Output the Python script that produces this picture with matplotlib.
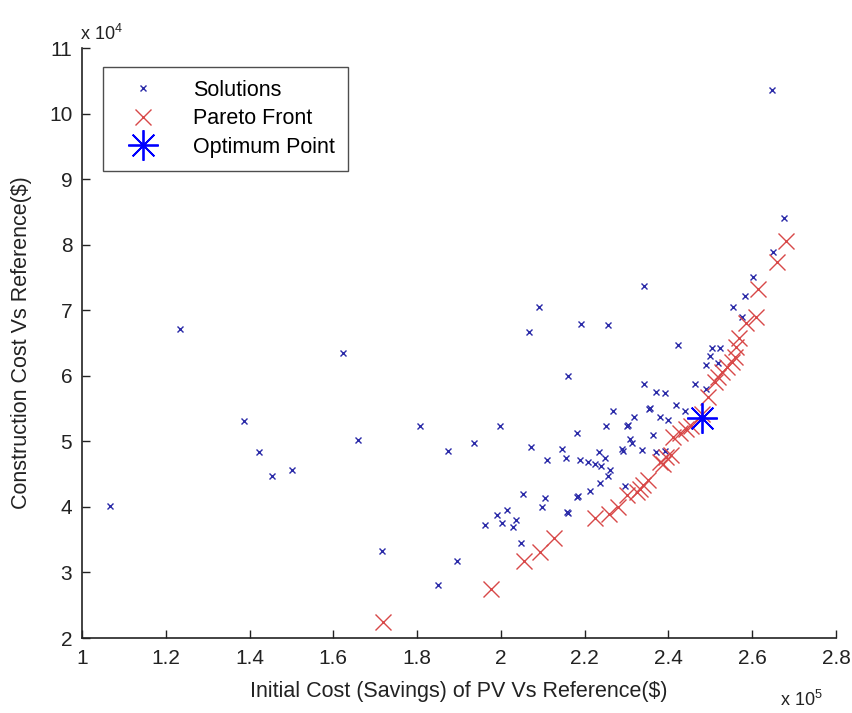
import matplotlib
matplotlib.use("Agg")
import matplotlib.pyplot as plt

plt.rcParams['font.family'] = ['Liberation Sans', 'DejaVu Sans']
plt.rcParams['mathtext.fontset'] = 'custom'
plt.rcParams['mathtext.rm'] = 'Liberation Sans'

# Solutions (x in 1e5 $, y in 1e4 $)
sol_x = [1.068, 1.234, 1.387, 1.423, 1.453, 1.502, 1.622, 1.659, 1.716, 1.808,
         1.850, 1.874, 1.895, 1.936, 1.998, 1.962, 1.990, 2.002, 2.014, 2.029,
         2.036, 2.048, 2.052, 2.068, 2.072, 2.090, 2.097, 2.105, 2.109, 2.146,
         2.155, 2.157, 2.160, 2.161, 2.181, 2.184, 2.181, 2.189, 2.192, 2.209,
         2.212, 2.225, 2.235, 2.236, 2.240, 2.248, 2.251, 2.255, 2.256, 2.260,
         2.267, 2.288, 2.292, 2.296, 2.301, 2.304, 2.308, 2.312, 2.318, 2.336,
         2.341, 2.341, 2.354, 2.357, 2.362, 2.370, 2.370, 2.381, 2.391, 2.391,
         2.399, 2.419, 2.423, 2.439, 2.463, 2.490, 2.489, 2.500, 2.503, 2.519,
         2.523, 2.553, 2.576, 2.582, 2.602, 2.647, 2.650, 2.677]
sol_y = [4.02, 6.71, 5.31, 4.84, 4.47, 4.57, 6.34, 5.02, 3.33, 5.23,
         2.81, 4.86, 3.17, 4.98, 5.23, 3.73, 3.87, 3.76, 3.95, 3.70,
         3.80, 3.45, 4.20, 6.67, 4.92, 7.05, 4.00, 4.14, 4.71, 4.89,
         4.74, 3.92, 3.91, 6.00, 4.15, 4.16, 5.13, 4.71, 6.79, 4.69,
         4.24, 4.66, 4.83, 4.37, 4.63, 4.75, 5.23, 6.77, 4.47, 4.56,
         5.47, 4.89, 4.85, 4.32, 5.24, 5.25, 5.03, 4.98, 5.37, 4.87,
         5.88, 7.37, 5.50, 5.51, 5.10, 5.75, 4.83, 5.37, 5.73, 4.86,
         5.32, 5.55, 6.47, 5.46, 5.87, 5.80, 6.16, 6.30, 6.42, 6.20,
         6.42, 7.05, 6.90, 7.22, 7.51, 10.36, 7.89, 8.40]

# Pareto front
par_x = [1.718, 1.977, 2.056, 2.094, 2.126, 2.225, 2.258, 2.280, 2.300, 2.325,
         2.332, 2.340, 2.352, 2.380, 2.387, 2.395, 2.407, 2.411, 2.427, 2.443,
         2.455, 2.479, 2.495, 2.511, 2.519, 2.527, 2.539, 2.551, 2.558, 2.562,
         2.569, 2.586, 2.609, 2.614, 2.659, 2.680]
par_y = [2.25, 2.75, 3.18, 3.31, 3.52, 3.83, 3.89, 4.00, 4.18, 4.23,
         4.28, 4.33, 4.41, 4.69, 4.66, 4.76, 4.79, 5.06, 5.12, 5.19,
         5.24, 5.42, 5.68, 5.91, 5.98, 6.06, 6.13, 6.21, 6.29, 6.44,
         6.58, 6.81, 6.89, 7.32, 7.73, 8.05]

# Optimum point
opt_x = [2.479]
opt_y = [5.35]

x_ticks = [1, 1.2, 1.4, 1.6, 1.8, 2, 2.2, 2.4, 2.6, 2.8]
x_ticklabels = ['1', '1.2', '1.4', '1.6', '1.8', '2', '2.2', '2.4', '2.6', '2.8']
y_ticks = [2, 3, 4, 5, 6, 7, 8, 9, 10, 11]
y_ticklabels = ['2', '3', '4', '5', '6', '7', '8', '9', '10', '11']

fig = plt.figure(figsize=(8.52, 7.13), dpi=100)
ax = fig.add_axes([82/852, 1 - 638/713, (836 - 82)/852, (638 - 48)/713])

ax.plot(sol_x, sol_y, linestyle='none', marker='x', markersize=4.4,
        markeredgewidth=1.0, color='#2a2aa8', label='Solutions')
ax.plot(par_x, par_y, linestyle='none', marker='x', markersize=11,
        markeredgewidth=1.0, color='#d84848', label='Pareto Front')
ax.plot(opt_x, opt_y, linestyle='none', marker=(8, 2, 0), markersize=22,
        markeredgewidth=1.3, color='#0000ff', label='Optimum Point')

ax.set_xlim(1, 2.8)
ax.set_ylim(2, 11)
ax.set_xticks(x_ticks)
ax.set_xticklabels(x_ticklabels)
ax.set_yticks(y_ticks)
ax.set_yticklabels(y_ticklabels)
ax.tick_params(direction='in', length=6, width=1, labelsize=15, colors='#222222')
ax.tick_params(axis='x', pad=8)
ax.tick_params(axis='y', pad=7)
for s in ['top', 'right']:
    ax.spines[s].set_visible(False)
for s in ['left', 'bottom']:
    ax.spines[s].set_linewidth(1.2)
    ax.spines[s].set_color('#222222')

ax.set_xlabel('Initial Cost (Savings) of PV Vs Reference($)', fontsize=15.5, color='#222222', labelpad=9)
ax.set_ylabel('Construction Cost Vs Reference($)', fontsize=15.5, color='#222222', labelpad=12)

fig.text(80/852, 1 - 34/713, r'x 10$^{4}$', fontsize=13, color='#222222', va='center')
fig.text(780/852, 1 - 700/713, r'x 10$^{5}$', fontsize=13, color='#222222', va='center')

leg = ax.legend(loc='upper left', bbox_to_anchor=((103 - 82)/754, (638 - 67)/590),
                frameon=True, fancybox=False, fontsize=15.5, borderpad=0.6,
                handlelength=2.5, handletextpad=1.1, labelspacing=0.35,
                borderaxespad=0)
leg.get_frame().set_edgecolor('#222222')
leg.get_frame().set_linewidth(1.0)

fig.savefig('out.png', dpi=100)
